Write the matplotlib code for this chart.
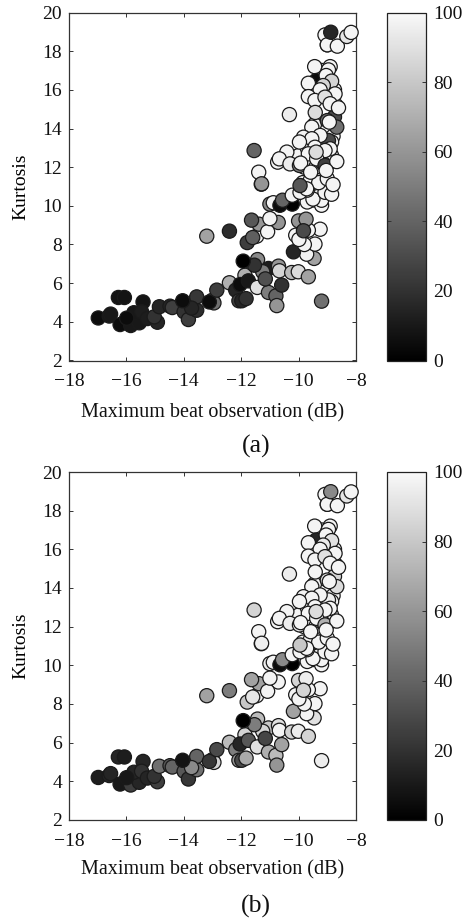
#!/usr/bin/env python3
import matplotlib

matplotlib.use("Agg")
import matplotlib.pyplot as plt
from matplotlib.colors import LinearSegmentedColormap

# values, drawn in list order (later points on top)
beat_max = [
    -10.15, -10.00, -9.80, -9.60, -9.50, -9.30, -9.20, -9.70, -9.20, -9.35, -9.60, -9.85,
    -9.10, -9.05, -9.30, -9.50, -9.70, -8.95, -8.85, -8.80, -8.70, -8.75, -9.20,
    -16.98, -16.60, -16.55, -16.28, -16.07, -16.22, -15.85, -15.55, -15.74, -15.42,
    -15.47, -15.27, -14.92, -15.03, -15.99, -14.85, -14.48, -14.40, -13.99, -13.84,
    -13.55, -13.55, -13.73, -14.04, -13.00, -12.95, -13.11, -12.85, -13.20, -12.41,
    -12.41, -11.87, -12.19, -12.08, -11.98, -12.04, -11.75, -11.83, -11.43, -11.05,
    -11.25, -11.54, -11.93, -11.44, -11.05, -10.79, -10.76, -11.16, -10.59, -10.70,
    -10.67, -10.24, -10.01, -9.66, -9.20, -9.46, -9.72, -10.18, -9.43, -9.80,
    -10.10, -9.99, -9.25, -9.66, -10.00, -9.74, -9.83, -11.79, -11.46, -11.60,
    -11.38, -10.71, -11.08, -11.00, -11.64, -11.30, -11.00, -10.88, -10.65, -10.22,
    -10.56, -10.22, -9.89, -9.20, -9.20, -9.50, -9.70, -9.95, -9.08, -8.85,
    -9.60, -9.30, -9.00, -8.80, -9.40, -9.15, -9.10, -8.85, -8.75, -9.45,
    -9.72, -9.95, -9.00, -9.08, -9.00, -8.88, -8.65, -8.32, -8.17, -9.44,
    -8.90, -8.96, -9.39, -9.04, -9.66, -8.85, -9.14, -9.25, -8.73, -9.66,
    -9.43, -9.08, -8.90, -8.61, -10.32, -9.42, -8.67, -9.00, -8.93, -9.54,
    -8.96, -9.25, -9.83, -9.54, -9.97, -9.43, -8.90, -9.66, -9.08, -11.55,
    -10.41, -10.73, -10.67, -10.30, -9.97, -9.93, -9.37, -9.08, -8.67, -9.39,
    -9.04, -9.58, -11.39, -11.29,
]
kurtosis = [
    12.30, 12.60, 12.00, 12.40, 11.70, 11.90, 12.50, 13.00, 13.20, 11.40, 11.30, 11.20,
    11.30, 10.90, 10.50, 10.30, 10.20, 12.20, 12.60, 13.60, 15.20, 16.00, 17.00,
    4.20, 4.30, 4.40, 5.26, 5.26, 3.86, 3.81, 3.95, 4.47, 5.03,
    4.52, 4.17, 3.98, 4.26, 4.19, 4.78, 4.81, 4.74, 4.52, 4.12,
    4.60, 5.29, 4.71, 5.09, 5.12, 4.98, 5.03, 5.64, 8.43, 8.69,
    6.02, 6.41, 5.64, 5.09, 5.09, 5.93, 6.12, 5.20, 7.22, 6.76,
    6.59, 6.93, 7.14, 5.78, 5.52, 5.34, 4.84, 6.22, 5.90, 6.88,
    6.64, 6.55, 6.59, 6.33, 5.07, 7.28, 7.50, 7.62, 8.02, 8.00,
    8.48, 8.26, 8.79, 8.74, 9.22, 9.31, 8.71, 8.10, 8.43, 8.36,
    9.05, 9.14, 8.66, 9.34, 9.26, 11.12, 10.09, 10.16, 10.03, 10.09,
    10.29, 10.55, 11.02, 10.03, 10.29, 10.35, 10.81, 10.70, 10.70, 10.60,
    11.30, 11.20, 11.40, 11.10, 12.00, 12.20, 13.10, 13.30, 14.60, 14.20,
    10.88, 11.05, 18.33, 18.84, 18.33, 18.98, 18.26, 18.76, 18.97, 17.20,
    17.20, 17.03, 16.48, 16.74, 16.34, 16.45, 16.22, 16.00, 15.79, 15.65,
    15.45, 15.62, 15.28, 15.07, 14.72, 14.83, 14.07, 14.41, 14.33, 14.07,
    13.38, 13.64, 13.55, 13.47, 13.30, 13.03, 12.95, 12.69, 12.86, 12.86,
    12.78, 12.26, 12.43, 12.17, 12.09, 12.21, 12.43, 12.09, 12.29, 12.78,
    11.83, 11.74, 11.74, 11.14,
]
shade_a = [
    98, 98, 96, 98, 98, 96, 98, 98, 98, 96, 98, 98,
    98, 98, 96, 98, 98, 98, 98, 98, 98, 98, 98,
    5, 10, 10, 8, 8, 5, 10, 10, 10, 8,
    12, 12, 15, 20, 5, 15, 15, 25, 20, 25,
    18, 22, 15, 5, 55, 45, 5, 25, 65, 18,
    70, 70, 15, 25, 15, 5, 10, 20, 55, 12,
    50, 20, 0, 90, 50, 40, 60, 32, 20, 60,
    85, 75, 88, 65, 45, 65, 97, 15, 98, 98,
    98, 98, 98, 98, 60, 60, 30, 25, 98, 38,
    60, 60, 98, 98, 35, 60, 55, 98, 5, 0,
    40, 98, 40, 98, 98, 98, 98, 98, 98, 98,
    98, 98, 98, 98, 98, 98, 98, 98, 30, 98,
    98, 35, 98, 98, 98, 15, 98, 92, 98, 98,
    98, 98, 5, 98, 98, 85, 85, 98, 98, 98,
    98, 90, 98, 98, 95, 88, 45, 45, 98, 98,
    30, 98, 98, 98, 98, 98, 98, 98, 98, 40,
    98, 98, 98, 95, 50, 98, 98, 25, 98, 88,
    98, 98, 98, 60,
]
shade_b = [
    98, 98, 96, 98, 98, 96, 98, 98, 98, 96, 98, 98,
    98, 98, 96, 98, 98, 98, 98, 98, 98, 98, 98,
    12, 15, 15, 15, 12, 10, 25, 15, 15, 15,
    20, 15, 25, 20, 10, 45, 35, 40, 35, 22,
    45, 40, 55, 8, 95, 85, 22, 30, 65, 50,
    75, 85, 50, 60, 30, 15, 35, 68, 75, 80,
    85, 50, 0, 90, 70, 75, 60, 28, 65, 90,
    98, 85, 95, 85, 95, 90, 98, 65, 98, 98,
    98, 98, 98, 98, 85, 95, 85, 80, 98, 92,
    65, 98, 98, 98, 65, 96, 95, 98, 5, 0,
    55, 98, 85, 98, 98, 98, 98, 98, 98, 98,
    98, 98, 98, 98, 98, 98, 98, 98, 85, 98,
    98, 80, 98, 98, 98, 55, 98, 92, 98, 98,
    98, 98, 15, 98, 98, 90, 95, 98, 98, 98,
    98, 90, 98, 98, 95, 98, 88, 90, 98, 98,
    95, 98, 98, 98, 98, 98, 98, 98, 98, 85,
    98, 98, 98, 95, 95, 98, 98, 70, 98, 88,
    98, 98, 98, 96,
]
x_ticks = [-18, -16, -14, -12, -10, -8]
y_ticks = [2, 4, 6, 8, 10, 12, 14, 16, 18, 20]
bar_ticks = [0, 20, 40, 60, 80, 100]
panels = [("(a)", shade_a, 12.5, 52.0), ("(b)", shade_b, 472.0, 50.0)]

W, H = 462, 918
FRAME = "#333333"
plt.rcParams["font.family"] = ["Liberation Serif", "DejaVu Serif"]
plt.rcParams["font.size"] = 14
plt.rcParams["axes.unicode_minus"] = True

cmap = LinearSegmentedColormap.from_list("paper_gray", ["#000000", "#f9f9f9"])


def px_rect(left, top, right, bottom):
    return [left / W, 1 - bottom / H, (right - left) / W, (bottom - top) / H]


def draw_panel(fig, name, shade, top, label_gap):
    bottom = top + 348
    ax = fig.add_axes(px_rect(69, top, 356, bottom))
    points = ax.scatter(
        beat_max, kurtosis, c=shade, cmap=cmap, vmin=0, vmax=100,
        s=104, edgecolors="#1a1a1a", linewidths=0.9, clip_on=False, zorder=3,
    )
    ax.set_xlim(-18, -8)
    ax.set_ylim(2, 20)
    ax.set_xticks(x_ticks)
    ax.set_yticks(y_ticks)
    ax.tick_params(direction="in", top=True, right=True, length=3, width=0.7,
                   color=FRAME, labelcolor="#111111")
    ax.tick_params(axis="x", pad=9)
    ax.tick_params(axis="y", pad=5)
    for spine in ax.spines.values():
        spine.set_linewidth(0.9)
        spine.set_color(FRAME)
    ax.set_ylabel("Kurtosis", fontsize=14, labelpad=9)

    fig.text(213 / W, 1 - (bottom + label_gap) / H, "Maximum beat observation (dB)",
             fontsize=14.5, ha="center", va="center", color="#111111")
    fig.text(256 / W, 1 - (bottom + 86) / H, name, fontsize=18.5,
             ha="center", va="center", color="#111111")

    cax = fig.add_axes(px_rect(386.5, top, 426.5, bottom))
    bar = fig.colorbar(points, cax=cax, ticks=bar_ticks)
    bar.outline.set_linewidth(0.9)
    bar.outline.set_edgecolor("#222222")
    cax.tick_params(direction="in", left=True, right=True, length=3, width=0.7,
                    color=FRAME, pad=5, labelcolor="#111111", labelsize=14)


def main() -> int:
    fig = plt.figure(figsize=(W / 100, H / 100), dpi=100)
    for name, shade, top, label_gap in panels:
        draw_panel(fig, name, shade, top, label_gap)
    fig.savefig("out.png", dpi=100)
    plt.close(fig)
    return 0


if __name__ == "__main__":
    raise SystemExit(main())
